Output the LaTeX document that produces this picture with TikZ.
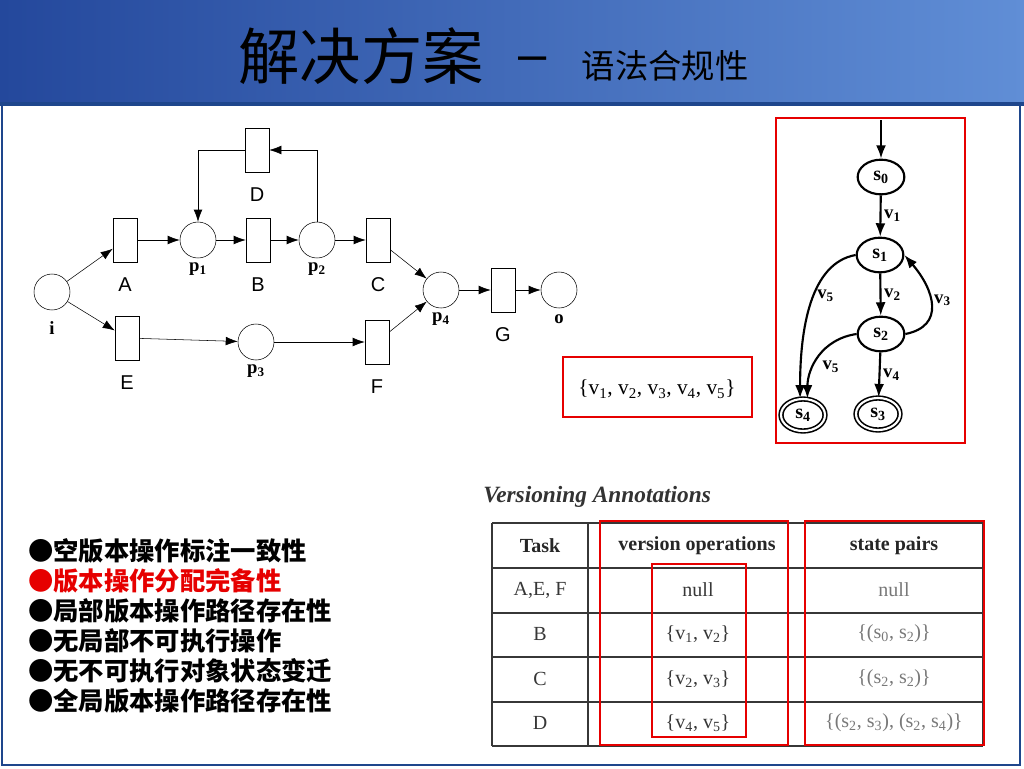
\documentclass[tikz,border=0pt]{standalone}
\usepackage{fontspec}
\setmainfont{Liberation Serif}
\setsansfont{Liberation Sans}
\newfontfamily\cjk{Noto Sans CJK SC}
\usetikzlibrary{positioning,arrows.meta,shapes.geometric}
\definecolor{hdrL}{RGB}{36,72,156}
\definecolor{hdrR}{RGB}{96,142,214}
\definecolor{hdrD}{RGB}{30,70,140}
\definecolor{hilite}{RGB}{230,0,0}
\definecolor{tab}{RGB}{55,55,55}
\definecolor{pairs}{RGB}{120,120,120}
\newcommand\pn[1]{\textbf{p}\textsubscript{\textbf{#1}}}
\newcommand\sn[1]{\textbf{s}\textsubscript{\textbf{#1}}}
\newcommand\vn[1]{\textbf{v}\textsubscript{\textbf{#1}}}
\tikzset{
	place/.style={circle,draw,inner sep=0pt,minimum size=27pt},
	trans/.style={rectangle,draw,inner sep=0pt,minimum width=18pt,minimum height=33pt},
	lab/.style={font=\sffamily\fontsize{15}{15}\selectfont},
	plab/.style={font=\fontsize{14}{14}\selectfont},
	arc/.style={-{Latex[length=9pt,width=6.5pt]}},
	state/.style={ellipse,draw,line width=1.6pt,inner sep=0pt,minimum width=35pt,minimum height=26pt,font=\fontsize{15}{15}\selectfont},
	final/.style={state,double,line width=1.2pt,double distance=1.6pt,minimum width=33pt,minimum height=24pt},
	move/.style={line width=1.6pt,-{Latex[length=10pt,width=7.5pt]}},
	vlab/.style={font=\fontsize{14}{14}\selectfont,inner sep=2pt},
	redbox/.style={draw=hilite,line width=2.2pt},
	cell/.style={font=\fontsize{15}{15}\selectfont,text=tab},
	item/.style={font=\cjk\bfseries\fontsize{19}{19}\selectfont,anchor=west,inner sep=0pt}
}
\begin{document}
\begin{tikzpicture}[x=0.75pt,y=-0.75pt]
	\useasboundingbox (0,0) rectangle (1024,768);
	\fill[white] (0,0) rectangle (1024,768);
	\shade[left color=hdrL,right color=hdrR] (0,0) rectangle (1024,104);
	\fill[hdrD] (0,102) rectangle (1024,106);
	\draw[hdrD,line width=1.5pt] (2,106) -- (2,765) -- (1020,765) -- (1020,106);
	\node[font=\cjk\fontsize{46}{46}\selectfont] (title) at (361,56) {解决方案};
	\node[font=\sffamily\fontsize{38}{38}\selectfont] (dash) at (533,64) {–};
	\node[font=\cjk\fontsize{25}{25}\selectfont] (subtitle) at (665,66) {语法合规性};

	\node[place] (i) at (52,292) {};
	\node[trans] (A) at (125,240) {};
	\node[place] (p1) at (198,240) {};
	\node[trans] (B) at (258,240) {};
	\node[place] (p2) at (317,240) {};
	\node[trans] (C) at (378,240) {};
	\node[trans] (D) at (257,150) {};
	\node[trans] (E) at (127,338) {};
	\node[place] (p3) at (256,342) {};
	\node[trans] (F) at (377,342) {};
	\node[place] (p4) at (441,290) {};
	\node[trans] (G) at (503,290) {};
	\node[place] (o) at (559,290) {};
	\node[plab,below=5pt of i] (li) {\textbf{i}};
	\node[lab,below=8pt of A] (lA) {A};
	\node[plab,below=0pt of p1] (lp1) {\pn{1}};
	\node[lab,below=8pt of B] (lB) {B};
	\node[plab,below=0pt of p2] (lp2) {\pn{2}};
	\node[lab,below=8pt of C] (lC) {C};
	\node[lab,below=8pt of D] (lD) {D};
	\node[lab,below=8pt of E] (lE) {E};
	\node[plab,below=0pt of p3] (lp3) {\pn{3}};
	\node[lab,below=8pt of F] (lF) {F};
	\node[plab,below=0pt of p4] (lp4) {\pn{4}};
	\node[lab,below=8pt of G] (lG) {G};
	\node[plab,below=1pt of o] (lo) {\textbf{o}};
	\draw[arc] (i) -- (A);
	\draw[arc] (i) -- (E);
	\draw[arc] (A) -- (p1);
	\draw[arc] (p1) -- (B);
	\draw[arc] (B) -- (p2);
	\draw[arc] (p2) -- (C);
	\draw[arc] (p2) |- (D);
	\draw[arc] (D) -| (p1);
	\draw[arc] (C) -- (p4);
	\draw[arc] (E) -- (p3);
	\draw[arc] (p3) -- (F);
	\draw[arc] (F) -- (p4);
	\draw[arc] (p4) -- (G);
	\draw[arc] (G) -- (o);

	\draw[redbox] (776,118) rectangle (965,443);
	\coordinate (start) at (881,120);
	\node[state] (s0) at (881,177) {\sn{0}};
	\node[state] (s1) at (880,255) {\sn{1}};
	\node[state] (s2) at (881,334) {\sn{2}};
	\node[final] (s3) at (878,414) {\sn{3}};
	\node[final] (s4) at (803,415) {\sn{4}};
	\draw[move] (start) -- (s0);
	\draw[move] (s0) -- node[vlab,right] {\vn{1}} (s1);
	\draw[move] (s1) -- node[vlab,right] {\vn{2}} (s2);
	\draw[move] (s2) -- node[vlab,right] {\vn{4}} (s3);
	\draw[move] (s2.east) .. controls +(40,-8) and +(30,35) .. node[vlab,right,pos=.55] {\vn{3}} (s1.east);
	\draw[move] (s1.west) .. controls +(-45,8) and +(0,-70) .. node[vlab,right,pos=.45] {\vn{5}} (s4.100);
	\draw[move] (s2.west) .. controls +(-35,5) and +(0,-30) .. node[vlab,below right,pos=.5] {\vn{5}} (s4.75);

	\draw[redbox] (563,357) rectangle (752,417);
	\node[font=\fontsize{16}{16}\selectfont] (vset) at (657,389) {\{v\textsubscript{1}, v\textsubscript{2}, v\textsubscript{3}, v\textsubscript{4}, v\textsubscript{5}\}};

	\node[font=\bfseries\itshape\fontsize{17.5}{17.5}\selectfont,text=black!80,anchor=west,inner sep=0pt] (ann) at (483,497) {Versioning Annotations};
	\foreach \y in {523,568,613,657,702,746}
		\draw[tab,line width=1.4pt] (492,\y) -- (983,\y);
	\draw[tab,line width=1pt] (492,523) -- (492,746) (983,523) -- (983,746);
	\draw[tab,line width=2pt] (588,523) -- (588,746);
	\node[cell,font=\bfseries\fontsize{15}{15}\selectfont,text=black!85] (hTask) at (540,546) {Task};
	\node[cell,font=\bfseries\fontsize{15}{15}\selectfont,text=black!85] (hOps) at (697,546) {version operations};
	\node[cell,font=\bfseries\fontsize{15}{15}\selectfont,text=black!85] (hPairs) at (894,546) {state pairs};
	\node[cell] (t1) at (540,590) {A,E, F};
	\node[cell] (o1) at (698,590) {null};
	\node[cell,text=pairs] (q1) at (894,590) {null};
	\node[cell] (t2) at (540,634) {B};
	\node[cell] (o2) at (698,634) {\{v\textsubscript{1}, v\textsubscript{2}\}};
	\node[cell,text=pairs] (q2) at (894,634) {\{(s\textsubscript{0}, s\textsubscript{2})\}};
	\node[cell] (t3) at (540,679) {C};
	\node[cell] (o3) at (698,679) {\{v\textsubscript{2}, v\textsubscript{3}\}};
	\node[cell,text=pairs] (q3) at (894,679) {\{(s\textsubscript{2}, s\textsubscript{2})\}};
	\node[cell] (t4) at (540,723) {D};
	\node[cell] (o4) at (698,723) {\{v\textsubscript{4}, v\textsubscript{5}\}};
	\node[cell,text=pairs] (q4) at (894,723) {\{(s\textsubscript{2}, s\textsubscript{3}), (s\textsubscript{2}, s\textsubscript{4})\}};
	\draw[redbox] (600,521) rectangle (788,745);
	\draw[redbox] (652,564) rectangle (746,737);
	\draw[redbox] (805,521) rectangle (984,745);

	\foreach \t/\c/\y in {空版本操作标注一致性/black/551,版本操作分配完备性/hilite/581,局部版本操作路径存在性/black/611,无局部不可执行操作/black/641,无不可执行对象状态变迁/black/671,全局版本操作路径存在性/black/701}
		\node[item,text=\c] at (28,\y) {●\t};
\end{tikzpicture}
\end{document}
